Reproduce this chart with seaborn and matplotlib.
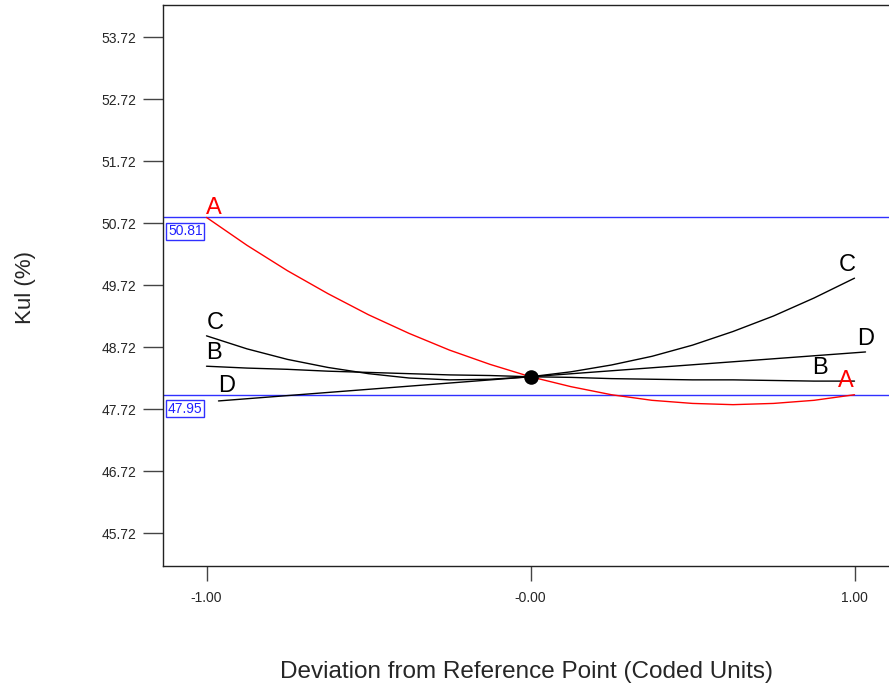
import numpy as np
import pandas as pd
import matplotlib
matplotlib.use("Agg")
import matplotlib.pyplot as plt
import seaborn as sns

# ---- data ----
x_grid = [-1.0, -0.875, -0.75, -0.625, -0.5, -0.375, -0.25, -0.125, 0.0,
          0.125, 0.25, 0.375, 0.5, 0.625, 0.75, 0.875, 1.0]
a_vals = [50.81, 50.36, 49.95, 49.58, 49.24, 48.94, 48.67, 48.44, 48.24,
          48.08, 47.95, 47.86, 47.81, 47.79, 47.81, 47.86, 47.95]
b_vals = [48.41, 48.38, 48.36, 48.33, 48.31, 48.29, 48.27, 48.26, 48.24,
          48.23, 48.21, 48.20, 48.19, 48.19, 48.18, 48.17, 48.17]
c_vals = [48.90, 48.69, 48.52, 48.39, 48.29, 48.22, 48.19, 48.20, 48.24,
          48.32, 48.43, 48.57, 48.75, 48.97, 49.22, 49.51, 49.83]
d_x = [-0.963, 0.0, 1.034]
d_vals = [47.85, 48.24, 48.64]
ref_x = [0.0]
ref_y = [48.24]
hlines = [50.81, 47.95]
y_ticks = [45.72, 46.72, 47.72, 48.72, 49.72, 50.72, 51.72, 52.72, 53.72]
x_ticks = [-1.0, 0.0, 1.0]
x_tick_labels = ["-1.00", "-0.00", "1.00"]

df = pd.concat([
    pd.DataFrame({"x": x_grid, "y": a_vals, "factor": "A"}),
    pd.DataFrame({"x": x_grid, "y": b_vals, "factor": "B"}),
    pd.DataFrame({"x": x_grid, "y": c_vals, "factor": "C"}),
    pd.DataFrame({"x": d_x, "y": d_vals, "factor": "D"}),
], ignore_index=True)

sns.set_style("white")
plt.rcParams["font.family"] = ["Liberation Sans", "DejaVu Sans"]

W, H = 889, 688
fig = plt.figure(figsize=(W / 100, H / 100), dpi=100)
ax = fig.add_axes([163 / W, 1 - 566 / H, (W - 163) / W, (566 - 5) / H])

palette = {"A": "#ff0000", "B": "#000000", "C": "#000000", "D": "#000000"}
sns.lineplot(data=df, x="x", y="y", hue="factor", palette=palette,
             estimator=None, sort=True, legend=False, linewidth=1.0, ax=ax)
sns.scatterplot(x=ref_x, y=ref_y, color="black", s=110, ax=ax, zorder=5,
                edgecolor="black", linewidth=0)

for v in hlines:
    ax.axhline(v, color="#3030ff", lw=1.0, zorder=1)
    ax.annotate(f"{v:.2f}", xy=(0, v), xycoords=ax.get_yaxis_transform(),
                xytext=(5, -7), textcoords="offset pixels", ha="left", va="top",
                fontsize=10, color="#2020ff",
                bbox=dict(boxstyle="square,pad=0.12", fc="white", ec="#3030ff", lw=1.0))

# factor labels (pixel positions converted to data)
lab_px = [("A", 214, 208, "#ff0000"), ("A", 846, 381, "#ff0000"),
          ("C", 215, 323, "black"), ("C", 847, 265, "black"),
          ("B", 214, 353, "black"), ("B", 820, 368, "black"),
          ("D", 227, 386, "black"), ("D", 866, 339, "black")]
for t, px, py, col in lab_px:
    xd = (px - 530.5) / 324.0
    yd = 53.72 - (py - 37) / 62.0
    ax.text(xd, yd, t, color=col, fontsize=17, ha="center", va="center")

ax.set_xlim((163 - 530.5) / 324.0, (W - 530.5) / 324.0)
ax.set_ylim(53.72 - (566 - 37) / 62.0, 53.72 - (5 - 37) / 62.0)
ax.set_yticks(y_ticks)
ax.set_yticklabels([f"{t:.2f}" for t in y_ticks])
ax.set_xticks(x_ticks)
ax.set_xticklabels(x_tick_labels)

ax.tick_params(axis="y", direction="out", length=14.4, width=1.0, color="#444444",
               pad=5, labelsize=10, left=True)
ax.tick_params(axis="x", direction="out", length=10.8, width=1.0, color="#444444",
               pad=7, labelsize=10, bottom=True)

for s in ["left", "bottom", "top"]:
    ax.spines[s].set_color("#222222")
    ax.spines[s].set_linewidth(1.0)
ax.spines["right"].set_visible(False)

ax.set_xlabel("Deviation from Reference Point (Coded Units)", fontsize=17.5)
ax.set_ylabel("Kul (%)", fontsize=16)
ax.xaxis.set_label_coords((527 - 163) / (W - 163), (566 - 661) / 561)
ax.yaxis.set_label_coords((36 - 163) / (W - 163), (566 - 287) / 561)

fig.savefig("out.png", dpi=100)
